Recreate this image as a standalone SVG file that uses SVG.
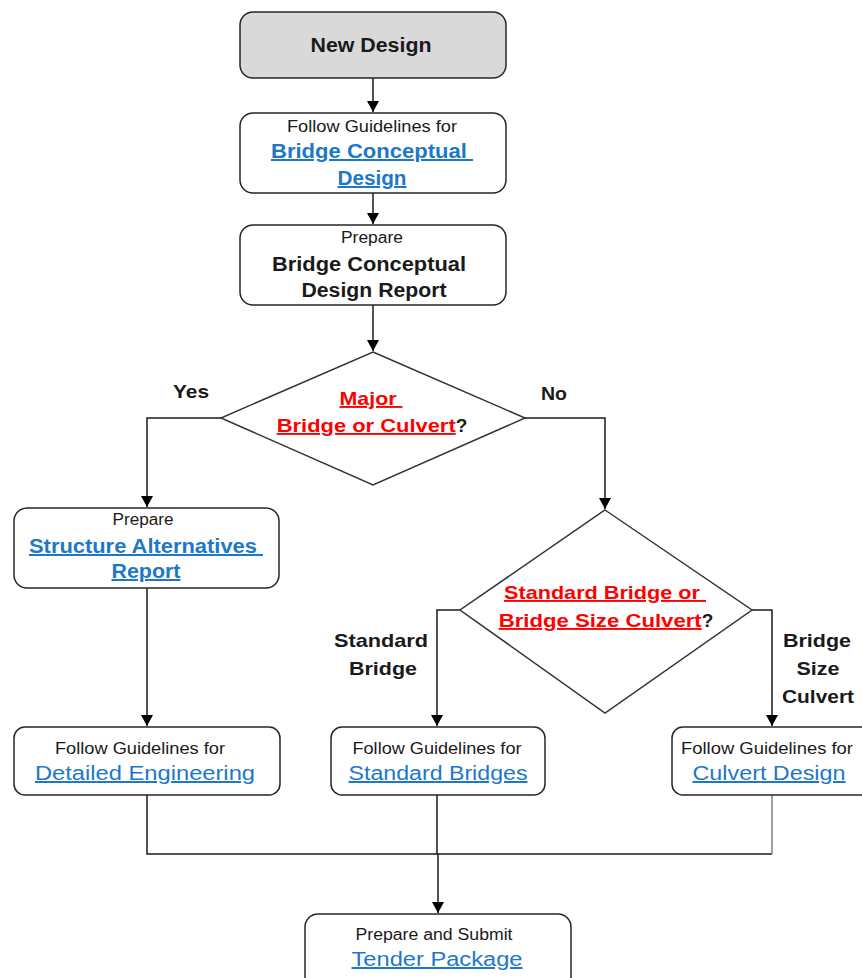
<svg xmlns="http://www.w3.org/2000/svg" width="862" height="978" viewBox="0 0 862 978">
<style>
.box{fill:#fff;stroke:#262626;stroke-width:1.5}
.start{fill:#d9d9d9;stroke:#262626;stroke-width:1.5}
.dia{fill:#fff;stroke:#333;stroke-width:1.5}
.ln{fill:none;stroke:#1a1a1a;stroke-width:1.5}
.lng{fill:none;stroke:#808080;stroke-width:1.5}
text{font-family:"Liberation Sans",Arial,sans-serif;text-anchor:middle}
.b{font-weight:bold;font-size:20px;fill:#1a1a1a}
.s{font-size:16px;fill:#1a1a1a}
.n{font-family:"Liberation Sans Narrow","Liberation Sans",Arial,sans-serif;font-size:16px;fill:#1a1a1a}
.lk{font-size:20px;fill:#1d78c9;text-decoration:underline}
.lkb{font-weight:bold;font-size:20px;fill:#1d78c9;text-decoration:underline}
.rd{font-weight:bold;font-size:19px;fill:#ff0000;text-decoration:underline}
.q{font-weight:bold;font-size:19px;fill:#1a1a1a}
</style>
<defs>
<marker id="ah" viewBox="0 0 11 12" refX="11" refY="6" markerWidth="11" markerHeight="12" markerUnits="userSpaceOnUse" orient="auto">
<path d="M0,0 L11,6 L0,12 z" fill="#000"/>
</marker>
</defs>

<g id="connectors">
<path class="ln" d="M373,78 V112" marker-end="url(#ah)"/>
<path class="ln" d="M373,193 V224" marker-end="url(#ah)"/>
<path class="ln" d="M373,305 V351" marker-end="url(#ah)"/>
<path class="ln" d="M221,418 H147 V507" marker-end="url(#ah)"/>
<path class="ln" d="M525,418 H605 V509" marker-end="url(#ah)"/>
<path class="ln" d="M147,588 V726" marker-end="url(#ah)"/>
<path class="ln" d="M460,610 H437 V726" marker-end="url(#ah)"/>
<path class="ln" d="M752,610 H772 V726" marker-end="url(#ah)"/>
<path class="ln" d="M147,795 V854 H772"/>
<path class="lng" d="M772,795 V854"/>
<path class="ln" d="M437,795 V854"/>
<path class="ln" d="M438,854 V913" marker-end="url(#ah)"/>
<text class="q" x="191" y="398" textLength="36" lengthAdjust="spacingAndGlyphs">Yes</text>
<text class="q" x="554" y="400" textLength="26" lengthAdjust="spacingAndGlyphs">No</text>
<text class="q" x="381" y="647" textLength="94" lengthAdjust="spacingAndGlyphs">Standard</text>
<text class="q" x="383" y="675" textLength="68" lengthAdjust="spacingAndGlyphs">Bridge</text>
<text class="q" x="817" y="647" textLength="68" lengthAdjust="spacingAndGlyphs">Bridge</text>
<text class="q" x="818" y="675" textLength="43" lengthAdjust="spacingAndGlyphs">Size</text>
<text class="q" x="818" y="703" textLength="72" lengthAdjust="spacingAndGlyphs">Culvert</text>
</g>

<g id="new-design">
<rect class="start" x="240" y="12" width="266" height="66" rx="13"/>
<text class="b" x="371" y="52" textLength="121" lengthAdjust="spacingAndGlyphs">New Design</text>
</g>

<g id="bridge-conceptual-design">
<rect class="box" x="240" y="113" width="266" height="80" rx="13"/>
<text class="n" x="372" y="132" textLength="170" lengthAdjust="spacingAndGlyphs">Follow Guidelines for</text>
<text class="lkb" x="372" y="158" textLength="202" lengthAdjust="spacingAndGlyphs" xml:space="preserve">Bridge Conceptual </text>
<text class="lkb" x="372" y="185" textLength="69" lengthAdjust="spacingAndGlyphs">Design</text>
</g>

<g id="conceptual-design-report">
<rect class="box" x="240" y="225" width="266" height="80" rx="13"/>
<text class="s" x="372" y="243" textLength="62" lengthAdjust="spacingAndGlyphs">Prepare</text>
<text class="b" x="369" y="271" textLength="194" lengthAdjust="spacingAndGlyphs">Bridge Conceptual</text>
<text class="b" x="374" y="297" textLength="145" lengthAdjust="spacingAndGlyphs">Design Report</text>
</g>

<g id="major-decision">
<polygon class="dia" points="373,352 525,418 373,485 221,418"/>
<text class="rd" x="371" y="405" textLength="63" lengthAdjust="spacingAndGlyphs" xml:space="preserve">Major </text>
<text x="372" y="432"><tspan class="rd" textLength="179" lengthAdjust="spacingAndGlyphs">Bridge or Culvert</tspan><tspan class="q">?</tspan></text>
</g>

<g id="structure-alternatives">
<rect class="box" x="14" y="508" width="265" height="80" rx="13"/>
<text class="s" x="143" y="525" textLength="61" lengthAdjust="spacingAndGlyphs">Prepare</text>
<text class="lkb" x="146" y="553" textLength="234" lengthAdjust="spacingAndGlyphs" xml:space="preserve">Structure Alternatives </text>
<text class="lkb" x="146" y="578" textLength="69" lengthAdjust="spacingAndGlyphs">Report</text>
</g>

<g id="standard-decision">
<polygon class="dia" points="605,510 752,610 605,713 460,610"/>
<text class="rd" x="605" y="599" textLength="202" lengthAdjust="spacingAndGlyphs" xml:space="preserve">Standard Bridge or </text>
<text x="606" y="627"><tspan class="rd" textLength="203" lengthAdjust="spacingAndGlyphs">Bridge Size Culvert</tspan><tspan class="q">?</tspan></text>
</g>

<g id="detailed-engineering">
<rect class="box" x="14" y="727" width="266" height="68" rx="11"/>
<text class="n" x="140" y="754" textLength="170" lengthAdjust="spacingAndGlyphs">Follow Guidelines for</text>
<text class="lk" x="145" y="780" textLength="220" lengthAdjust="spacingAndGlyphs">Detailed Engineering</text>
</g>

<g id="standard-bridges">
<rect class="box" x="331" y="727" width="214" height="68" rx="11"/>
<text class="n" x="437" y="754" textLength="169" lengthAdjust="spacingAndGlyphs">Follow Guidelines for</text>
<text class="lk" x="438" y="780" textLength="179" lengthAdjust="spacingAndGlyphs">Standard Bridges</text>
</g>

<g id="culvert-design">
<rect class="box" x="672" y="727" width="210" height="68" rx="11"/>
<text class="n" x="767" y="754" textLength="172" lengthAdjust="spacingAndGlyphs">Follow Guidelines for</text>
<text class="lk" x="769" y="780" textLength="153" lengthAdjust="spacingAndGlyphs">Culvert Design</text>
</g>

<g id="tender-package">
<rect class="box" x="305" y="914" width="266" height="80" rx="13"/>
<text class="n" x="434" y="940" textLength="157" lengthAdjust="spacingAndGlyphs">Prepare and Submit</text>
<text class="lk" x="437" y="966" textLength="171" lengthAdjust="spacingAndGlyphs">Tender Package</text>
</g>
</svg>
